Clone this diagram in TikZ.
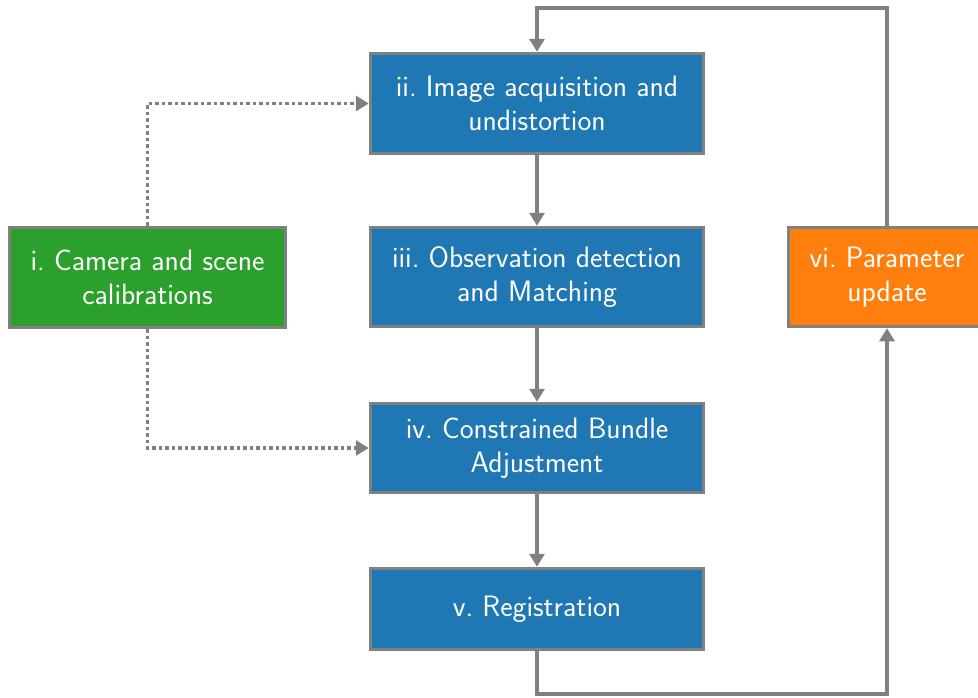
\documentclass[tikz,border=0pt]{standalone}
\usetikzlibrary{arrows.meta}
\definecolor{stepblue}{HTML}{1F77B4}
\definecolor{stepgreen}{HTML}{2CA02C}
\definecolor{steporange}{HTML}{FF7F0E}
\definecolor{edgegray}{RGB}{128,128,128}
\begin{document}
\frenchspacing
\begin{tikzpicture}[x=1pt,y=-1pt,
  stepbox/.style={draw=edgegray, line width=3.5pt, fill=stepblue, text=white,
    align=center, inner sep=0pt,
    font=\sffamily\fontsize{29.5}{33.5}\selectfont},
  flow/.style={draw=edgegray, line width=3.5pt,
    -{Triangle[length=13pt,width=15pt]}},
  feed/.style={flow, dash pattern=on 3.5pt off 3pt}]
\useasboundingbox (0,0) rectangle (978,697);

\node[stepbox, fill=stepgreen, minimum width=276pt, minimum height=100pt]
  (calib) at (147.5,277.5) {i. Camera and scene\\calibrations};
\node[stepbox, minimum width=333pt, minimum height=100pt]
  (acq) at (537,103.5) {ii. Image acquisition and\\undistortion};
\node[stepbox, minimum width=333pt, minimum height=99pt]
  (obs) at (537,277) {iii. Observation detection\\and Matching};
\node[stepbox, minimum width=333pt, minimum height=89pt]
  (cba) at (537,448) {iv. Constrained Bundle\\Adjustment};
\node[stepbox, minimum width=333pt, minimum height=81pt]
  (reg) at (537,609) {v. Registration};
\node[stepbox, fill=steporange, minimum width=197pt, minimum height=99pt]
  (upd) at (887,277) {vi. Parameter\\update};

\coordinate (loopTL) at (537,8);
\coordinate (loopTR) at (887,8);
\coordinate (loopBL) at (537,694);
\coordinate (loopBR) at (887,694);

\draw[flow] (acq) -- (obs);
\draw[flow] (obs) -- (cba);
\draw[flow] (cba) -- (reg);
\draw[flow] (reg.south) -- (loopBL) -- (loopBR) -- (upd.south);
\draw[flow] (upd.north) -- (loopTR) -- (loopTL) -- (acq.north);
\draw[feed] (calib.north) |- (acq.west);
\draw[feed] (calib.south) |- (cba.west);
\end{tikzpicture}
\end{document}
